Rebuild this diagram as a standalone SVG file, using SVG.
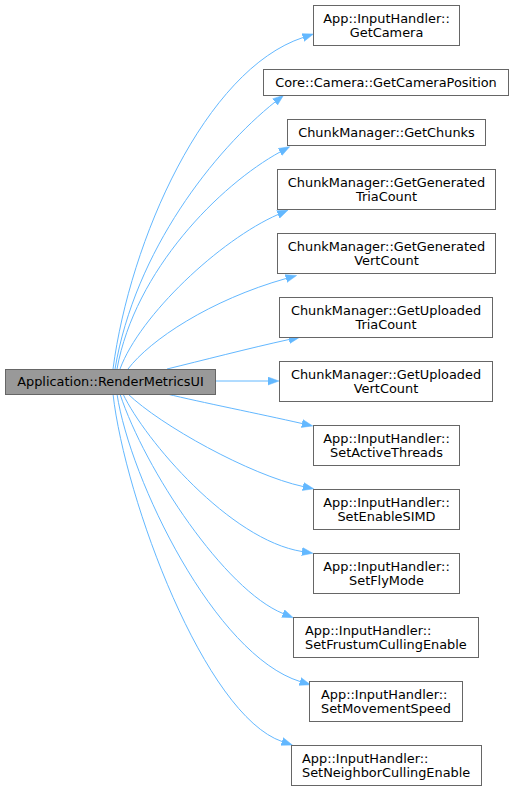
<svg xmlns="http://www.w3.org/2000/svg" width="515" height="791" viewBox="0 0 515 791">
<style>
  .n rect { fill: #ffffff; stroke: #666666; stroke-width: 1; }
  .n.main rect { fill: #999999; }
  text { font-family: "DejaVu Sans", sans-serif; font-size: 12.9px; fill: #000000; }
  .c { text-anchor: middle; }
  .e path { fill: none; stroke: #63b8ff; stroke-width: 1; }
</style>
<defs>
  <marker id="arr" markerUnits="userSpaceOnUse" markerWidth="13" markerHeight="10" refX="0" refY="4.5" orient="auto">
    <path d="M0,0.5 L11,4.5 L0,8.5 z" fill="#63b8ff" stroke="#63b8ff" stroke-width="0.5"/>
  </marker>
</defs>
<rect width="515" height="791" fill="#ffffff"/>
<g id="edges" class="e">
  <path d="M113,369 C130,240 205,70 303,37.5" marker-end="url(#arr)"/>
  <path d="M115,369 C135,250 215,150 275,102" marker-end="url(#arr)"/>
  <path d="M117,369 C135,270 220,185 280,152" marker-end="url(#arr)"/>
  <path d="M120,369 C140,315 220,240 278,214.5" marker-end="url(#arr)"/>
  <path d="M128,369 C150,340 210,300 286,278.5" marker-end="url(#arr)"/>
  <path d="M167,369 C200,361 250,348 289,339.5" marker-end="url(#arr)"/>
  <path d="M216,381 L268,381" marker-end="url(#arr)"/>
  <path d="M167,394 C200,402 260,414 302,423.5" marker-end="url(#arr)"/>
  <path d="M128,394 C160,425 250,475 303,486.5" marker-end="url(#arr)"/>
  <path d="M123,394 C145,440 230,540 302,551.5" marker-end="url(#arr)"/>
  <path d="M120,394 C145,470 225,590 283,613.5" marker-end="url(#arr)"/>
  <path d="M117,394 C130,480 215,655 300,681.5" marker-end="url(#arr)"/>
  <path d="M113,394 C125,500 205,715 282,741.5" marker-end="url(#arr)"/>
</g>
<g id="main" class="n main">
  <rect x="5.5" y="369.5" width="210" height="25"/>
  <text class="c" x="110.5" y="386">Application::RenderMetricsUI</text>
</g>
<g id="getcamera" class="n">
  <rect x="313.5" y="5.5" width="146" height="40"/>
  <text class="c" x="386.5" y="22.5">App::InputHandler::</text>
  <text class="c" x="386.5" y="36.5">GetCamera</text>
</g>
<g id="getcamerapos" class="n">
  <rect x="263.5" y="69.5" width="245" height="26"/>
  <text class="c" x="386" y="86.5">Core::Camera::GetCameraPosition</text>
</g>
<g id="getchunks" class="n">
  <rect x="287.5" y="119.5" width="198" height="26"/>
  <text class="c" x="386.5" y="136.5">ChunkManager::GetChunks</text>
</g>
<g id="gentria" class="n">
  <rect x="277.5" y="169.5" width="218" height="40"/>
  <text class="c" x="386.5" y="186.5">ChunkManager::GetGenerated</text>
  <text class="c" x="386.5" y="200.5">TriaCount</text>
</g>
<g id="genvert" class="n">
  <rect x="277.5" y="233.5" width="218" height="40"/>
  <text class="c" x="386.5" y="250.5">ChunkManager::GetGenerated</text>
  <text class="c" x="386.5" y="264.5">VertCount</text>
</g>
<g id="uptria" class="n">
  <rect x="279.5" y="297.5" width="213" height="40"/>
  <text class="c" x="386" y="314.5">ChunkManager::GetUploaded</text>
  <text class="c" x="386" y="328.5">TriaCount</text>
</g>
<g id="upvert" class="n">
  <rect x="279.5" y="361.5" width="213" height="40"/>
  <text class="c" x="386" y="378.5">ChunkManager::GetUploaded</text>
  <text class="c" x="386" y="392.5">VertCount</text>
</g>
<g id="setactive" class="n">
  <rect x="313.5" y="425.5" width="146" height="40"/>
  <text class="c" x="386.5" y="442.5">App::InputHandler::</text>
  <text class="c" x="386.5" y="456.5">SetActiveThreads</text>
</g>
<g id="setsimd" class="n">
  <rect x="313.5" y="489.5" width="146" height="40"/>
  <text class="c" x="386.5" y="506.5">App::InputHandler::</text>
  <text class="c" x="386.5" y="520.5">SetEnableSIMD</text>
</g>
<g id="setfly" class="n">
  <rect x="313.5" y="553.5" width="146" height="40"/>
  <text class="c" x="386.5" y="570.5">App::InputHandler::</text>
  <text class="c" x="386.5" y="584.5">SetFlyMode</text>
</g>
<g id="setfrustum" class="n">
  <rect x="293.5" y="617.5" width="185" height="40"/>
  <text x="305" y="634.5">App::InputHandler::</text>
  <text x="305" y="648.5">SetFrustumCullingEnable</text>
</g>
<g id="setmovement" class="n">
  <rect x="309.5" y="681.5" width="153" height="40"/>
  <text x="321" y="698.5">App::InputHandler::</text>
  <text x="321" y="712.5">SetMovementSpeed</text>
</g>
<g id="setneighbor" class="n">
  <rect x="291.5" y="745.5" width="190" height="40"/>
  <text x="302" y="762.5">App::InputHandler::</text>
  <text x="302" y="776.5">SetNeighborCullingEnable</text>
</g>
</svg>
